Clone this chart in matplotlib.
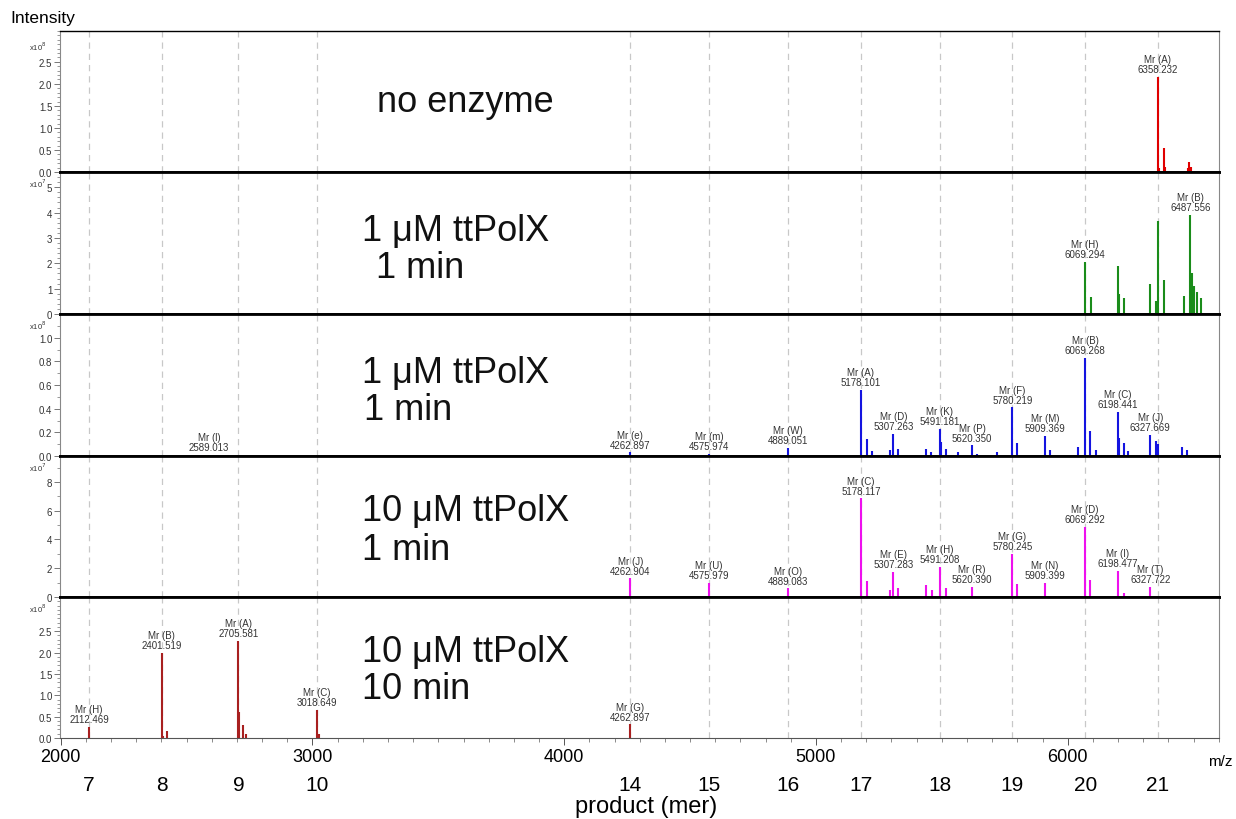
import numpy as np
import matplotlib.pyplot as plt
from matplotlib.ticker import MultipleLocator, FixedLocator
import matplotlib.transforms as mtransforms

plt.rcParams['font.family'] = ['Liberation Sans', 'DejaVu Sans']

# 产物位置 (m/z) 和对应的长度 (mer)
product_mz = [2112.469, 2401.519, 2705.581, 3018.649, 4262.897, 4575.974,
              4889.051, 5178.101, 5491.181, 5780.219, 6069.268, 6358.232]
product_mer = [7, 8, 9, 10, 14, 15, 16, 17, 18, 19, 20, 21]

# 面板1: no enzyme (x10^8)
p1_mz = [6358.232, 6362, 6382, 6386, 6478, 6483, 6488]
p1_int = [2.15, 0.1, 0.55, 0.12, 0.1, 0.22, 0.12]
p1_lab = [(6358.232, 'A')]
p1_ticks = [0.0, 0.5, 1.0, 1.5, 2.0, 2.5]

# 面板2: 1 uM 1 min (x10^7)
p2_mz = [6069.294, 6093, 6198, 6205, 6222, 6326, 6352, 6358, 6382,
         6462, 6487.556, 6495, 6500, 6512, 6530]
p2_int = [2.05, 0.68, 1.9, 0.8, 0.62, 1.2, 0.5, 3.65, 1.35,
          0.7, 3.9, 1.6, 1.1, 0.85, 0.62]
p2_lab = [(6069.294, 'H'), (6487.556, 'B')]
p2_ticks = [0, 1, 2, 3, 4, 5]

# 面板3: 1 uM 1 min (x10^8)
p3_mz = [2589.013, 4262.897, 4575.974, 4889.051, 5178.101, 5202, 5222,
         5296, 5307.263, 5326, 5437, 5457, 5491.181, 5496, 5515, 5566,
         5620.350, 5640, 5720, 5780.219, 5800, 5909.369, 5928, 6040,
         6069.268, 6090, 6112, 6198.441, 6205, 6222, 6240, 6327.669,
         6350, 6358, 6455, 6475]
p3_int = [0.01, 0.03, 0.02, 0.07, 0.56, 0.145, 0.04,
          0.05, 0.19, 0.06, 0.06, 0.03, 0.23, 0.12, 0.06, 0.03,
          0.09, 0.02, 0.03, 0.41, 0.11, 0.17, 0.05, 0.08,
          0.83, 0.21, 0.05, 0.37, 0.15, 0.11, 0.04, 0.18,
          0.13, 0.1, 0.08, 0.05]
p3_lab = [(2589.013, 'l'), (4262.897, 'e'), (4575.974, 'm'), (4889.051, 'W'),
          (5178.101, 'A'), (5307.263, 'D'), (5491.181, 'K'), (5620.350, 'P'),
          (5780.219, 'F'), (5909.369, 'M'), (6069.268, 'B'), (6198.441, 'C'),
          (6327.669, 'J')]
p3_ticks = [0.0, 0.2, 0.4, 0.6, 0.8, 1.0]

# 面板4: 10 uM 1 min (x10^7)
p4_mz = [4262.904, 4575.979, 4889.083, 5178.117, 5202, 5296, 5307.283, 5326,
         5437, 5460, 5491.208, 5515, 5620.390, 5780.245, 5800, 5909.399,
         6069.292, 6090, 6198.477, 6222, 6327.722]
p4_int = [1.3, 1.0, 0.6, 6.85, 1.1, 0.5, 1.75, 0.6,
          0.8, 0.5, 2.1, 0.6, 0.7, 3.0, 0.9, 1.0,
          4.9, 1.2, 1.8, 0.3, 0.7]
p4_lab = [(4262.904, 'J'), (4575.979, 'U'), (4889.083, 'O'), (5178.117, 'C'),
          (5307.283, 'E'), (5491.208, 'H'), (5620.390, 'R'), (5780.245, 'G'),
          (5909.399, 'N'), (6069.292, 'D'), (6198.477, 'I'), (6327.722, 'T')]
p4_ticks = [0, 2, 4, 6, 8]

# 面板5: 10 uM 10 min (x10^8)
p5_mz = [2112.469, 2401.519, 2407, 2421, 2705.581, 2710, 2725, 2735,
         3018.649, 3025, 4262.897]
p5_int = [0.26, 2.0, 0.05, 0.17, 2.28, 0.6, 0.31, 0.1,
          0.65, 0.1, 0.32]
p5_lab = [(2112.469, 'H'), (2401.519, 'B'), (2705.581, 'A'), (3018.649, 'C'),
          (4262.897, 'G')]
p5_ticks = [0.0, 0.5, 1.0, 1.5, 2.0, 2.5]

panels = [
    (p1_mz, p1_int, p1_lab, '#e00000', 3.2, p1_ticks, 0.1, '%.1f', 8,
     [('no enzyme', 0.2735, 0.50)]),
    (p2_mz, p2_int, p2_lab, '#1a8c1a', 5.6, p2_ticks, 0.2, '%d', 7,
     [('1 \u03bcM ttPolX', 0.261, 0.585), ('1 min', 0.273, 0.33)]),
    (p3_mz, p3_int, p3_lab, '#1414e0', 1.2, p3_ticks, 0.1, '%.1f', 8,
     [('1 \u03bcM ttPolX', 0.261, 0.59), ('1 min', 0.262, 0.33)]),
    (p4_mz, p4_int, p4_lab, '#ee10ee', 9.8, p4_ticks, 1, '%d', 7,
     [('10 \u03bcM ttPolX', 0.261, 0.61), ('1 min', 0.261, 0.34)]),
    (p5_mz, p5_int, p5_lab, '#a82020', 3.3, p5_ticks, 0.1, '%.1f', 8,
     [('10 \u03bcM ttPolX', 0.261, 0.617), ('10 min', 0.261, 0.35)]),
]

W, H = 1236, 820
fig = plt.figure(figsize=(W / 100, H / 100), dpi=100)
tops = [32, 173, 315, 457, 598, 739]
x_left, x_right = 60, 1219
axes = []

for i, (mz, inten, labs, col, ymax, ticks, minor, fmt, expo, texts) in enumerate(panels):
    t, b = tops[i], tops[i + 1]
    ax = fig.add_axes([x_left / W, 1 - b / H, (x_right - x_left) / W, (b - t) / H])
    axes.append(ax)
    ax.set_xlim(1997, 6601)
    ax.set_ylim(0, ymax)

    # 灰色虚线标记每个产物位置
    for m in product_mz:
        ax.axvline(m, color='#c8c8c8', ls=(0, (5, 4)), lw=0.9, zorder=0)

    ax.vlines(mz, 0, inten, color=col, lw=1.5, zorder=2)

    for m, name in labs:
        h = inten[mz.index(m)]
        ax.annotate('Mr (%s)\n%.3f' % (name, m), (m, h), xytext=(0, 2),
                    textcoords='offset points', ha='center', va='bottom',
                    fontsize=7, color='#333333', linespacing=1.0)

    for s, tx, ty in texts:
        ax.text(tx, ty, s, transform=ax.transAxes, ha='left', va='center',
                fontsize=26, color='#111111')

    # y轴刻度
    ax.yaxis.set_major_locator(FixedLocator(ticks))
    ax.yaxis.set_minor_locator(MultipleLocator(minor))
    ax.set_yticklabels([fmt % v for v in ticks])
    ax.tick_params(axis='y', which='major', length=4, width=0.7, color='#777777',
                   labelsize=7, labelcolor='#333333', pad=1.5)
    ax.tick_params(axis='y', which='minor', length=2.5, width=0.6, color='#888888')
    ax.text(-0.012, 0.925 if i > 0 else 0.894, r'x10$^{%d}$' % expo,
            transform=ax.transAxes, ha='right', va='center', fontsize=5.5,
            color='#333333')

    ax.spines['left'].set_color('#888888')
    ax.spines['right'].set_color('#888888')
    ax.spines['left'].set_linewidth(0.8)
    ax.spines['right'].set_linewidth(0.8)
    ax.spines['top'].set_color('black')
    ax.spines['top'].set_linewidth(2.0 if i > 0 else 1.0)
    if i < 4:
        ax.spines['bottom'].set_color('black')
        ax.spines['bottom'].set_linewidth(2.0)
        ax.tick_params(axis='x', which='both', bottom=False, labelbottom=False)
    else:
        ax.spines['bottom'].set_color('#555555')
        ax.spines['bottom'].set_linewidth(0.8)

ax5 = axes[-1]
ax5.xaxis.set_major_locator(FixedLocator([2000, 3000, 4000, 5000, 6000]))
ax5.xaxis.set_minor_locator(MultipleLocator(100))
ax5.tick_params(axis='x', which='major', length=5, width=0.7, color='#555555',
                labelsize=13, pad=2)
ax5.tick_params(axis='x', which='minor', length=3, width=0.6, color='#777777')

# 下方的产物长度标签
trans = mtransforms.blended_transform_factory(ax5.transData, ax5.transAxes)
for m, n in zip(product_mz, product_mer):
    ax5.text(m, -0.33, str(n), transform=trans, ha='center', va='center',
             fontsize=15)

fig.text(1233 / W, 1 - 762 / H, 'm/z', ha='right', va='center', fontsize=11)
fig.text(646 / W, 1 - 807 / H, 'product (mer)', ha='center', va='center', fontsize=17)
fig.text(10 / W, 1 - 18 / H, 'Intensity', ha='left', va='center', fontsize=12.5)

plt.savefig('out.png', dpi=100)
